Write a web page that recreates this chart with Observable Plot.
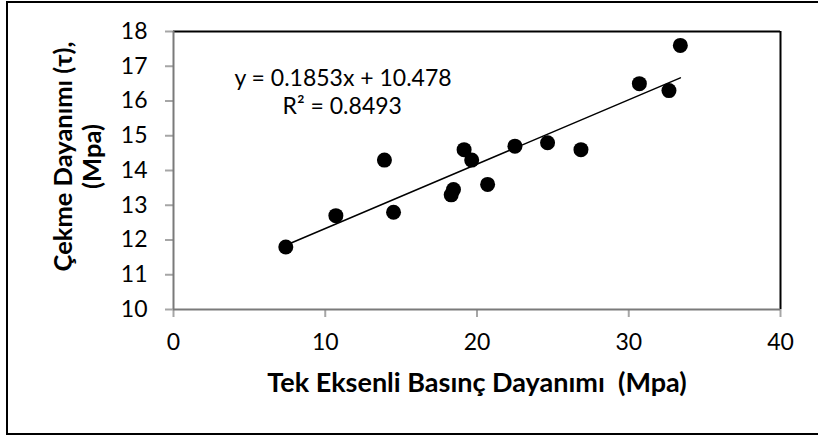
<!DOCTYPE html>
<html>
<head>
<meta charset="utf-8">
<script src="https://cdn.jsdelivr.net/npm/d3@7"></script>
<script src="https://cdn.jsdelivr.net/npm/@observablehq/plot@0.6"></script>
<style>
  html, body { margin: 0; padding: 0; background: #fff; }
  #wrap { position: relative; width: 818px; height: 438px; overflow: hidden; }
  #border { position: absolute; left: 6px; top: 1px; width: 830px; height: 430px; border: 2px solid #000; pointer-events: none; }
  svg text { white-space: pre; }
</style>
</head>
<body>
<div id="wrap"><div id="border"></div></div>
<script>
const xValues = [7.4, 10.7, 13.9, 14.5, 18.3, 18.45, 19.15, 19.65, 20.7, 22.5, 24.65, 26.85, 30.7, 32.65, 33.4];
const yValues = [11.8, 12.7, 14.3, 12.8, 13.3, 13.45, 14.6, 14.3, 13.6, 14.7, 14.8, 14.6, 16.5, 16.3, 17.6];
const xTicks = [0, 10, 20, 30, 40];
const yTicks = [10, 11, 12, 13, 14, 15, 16, 17, 18];
const slope = 0.1853;
const intercept = 10.478;
const r2 = 0.8493;
const xTitle = "Tek Eksenli Basınç Dayanımı  (Mpa)";
const yTitle = "Çekme Dayanımı (τ),\n(Mpa)";

const points = xValues.map((x, i) => ({x, y: yValues[i]}));
const xmin = d3.min(xValues), xmax = d3.max(xValues);
const trend = [xmin, xmax].map(x => ({x, y: slope * x + intercept}));
const eqLine = `y = ${slope}x + ${intercept}`;
const r2Line = `R² = ${r2}`;

const font = "Lato, 'Open Sans', sans-serif";
const plot = Plot.plot({
  width: 818,
  height: 438,
  marginLeft: 173,
  marginRight: 38,
  marginTop: 31,
  marginBottom: 129,
  style: {fontFamily: font, fontSize: "23px", color: "#000", background: "#fff", overflow: "visible"},
  x: {domain: [0, 40], ticks: xTicks},
  y: {domain: [10, 18], ticks: yTicks},
  marks: [
    Plot.ruleY([18], {stroke: "#000", strokeWidth: 2}),
    Plot.ruleX([40], {stroke: "#000", strokeWidth: 2}),
    Plot.axisX({ticks: xTicks, tickSize: 8, tickPadding: 16, stroke: "#a6a6a6", strokeWidth: 2, strokeOpacity: 1, label: null, fontSize: 23, fill: "#000"}),
    Plot.axisY({ticks: yTicks, tickSize: 8, tickPadding: 18, stroke: "#a6a6a6", strokeWidth: 2, strokeOpacity: 1, label: null, fontSize: 23, fill: "#000"}),
    Plot.ruleX([0], {stroke: "#7a7a7a", strokeWidth: 2}),
    Plot.ruleY([10], {stroke: "#7a7a7a", strokeWidth: 2}),
    Plot.line(trend, {x: "x", y: "y", stroke: "#000", strokeWidth: 1.5}),
    Plot.dot(points, {x: "x", y: "y", r: 7.5, fill: "#000", stroke: "none"}),
    Plot.text([eqLine], {x: 11.17, y: 16.65, text: d => d, fontSize: 23, textAnchor: "middle", lineAnchor: "middle", fill: "#000"}),
    Plot.text([r2Line], {x: 11.12, y: 15.85, text: d => d, fontSize: 23, textAnchor: "middle", lineAnchor: "middle", fill: "#000"}),
    Plot.text([xTitle], {frameAnchor: "bottom", dy: 74, text: d => d, fontSize: 27, fontWeight: "bold", textAnchor: "middle", lineAnchor: "middle", fill: "#000"}),
    Plot.text([yTitle], {frameAnchor: "left", dx: -96, dy: -14, rotate: -90, text: d => d, fontSize: 25.5, fontWeight: "bold", lineHeight: 1.12, textAnchor: "middle", lineAnchor: "middle", fill: "#000"})
  ]
});
document.getElementById("wrap").prepend(plot);
</script>
</body>
</html>
